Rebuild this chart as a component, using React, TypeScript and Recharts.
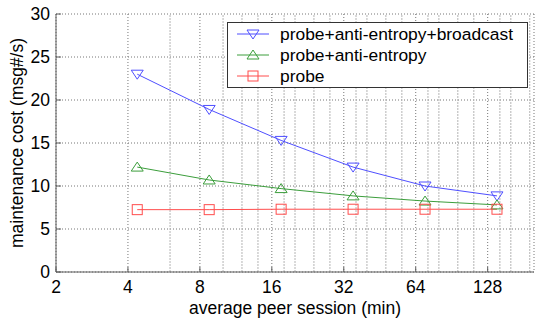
import { LineChart, Line, XAxis, YAxis, CartesianGrid, ReferenceLine } from 'recharts';

// session length (min) on a log axis, cost in msg#/s
const sessionMinutes = [4.375, 8.75, 17.5, 35, 70, 140];
const broadcastCost = [23.0, 18.9, 15.3, 12.2, 10.0, 8.85];
const antiEntropyCost = [12.2, 10.7, 9.7, 8.85, 8.25, 7.8];
const probeCost = [7.25, 7.25, 7.3, 7.3, 7.3, 7.3];

const xTicks = [2, 4, 8, 16, 32, 64, 128];
const xMinorTicks = [6, 10, 12, 14, 18, 20, 24, 28, 36, 40, 48, 56, 72, 80, 96, 112, 144, 160, 192];
const yTicks = [0, 5, 10, 15, 20, 25, 30];

const seriesKeys = ['bcast', 'ae', 'probe'];
const seriesNames = ['probe+anti-entropy+broadcast', 'probe+anti-entropy', 'probe'];
const seriesColors = ['#4f4fff', '#3c9e3c', '#ff4d4d'];

const data = sessionMinutes.map((m, i) => ({
  m,
  bcast: broadcastCost[i],
  ae: antiEntropyCost[i],
  probe: probeCost[i],
}));

const FONT = '"Liberation Sans", Arial, sans-serif';

/* hollow markers, matlab style */
const TriDown = (props: any) => {
  const { cx, cy, stroke } = props;
  if (cx == null || cy == null) return null;
  return (
    <polygon
      points={`${cx - 6},${cy - 4} ${cx + 6},${cy - 4} ${cx},${cy + 5}`}
      fill="none"
      stroke={stroke}
      strokeWidth={1}
    />
  );
};

const TriUp = (props: any) => {
  const { cx, cy, stroke } = props;
  if (cx == null || cy == null) return null;
  return (
    <polygon
      points={`${cx - 6},${cy + 4} ${cx + 6},${cy + 4} ${cx},${cy - 5}`}
      fill="none"
      stroke={stroke}
      strokeWidth={1}
    />
  );
};

const Square = (props: any) => {
  const { cx, cy, stroke } = props;
  if (cx == null || cy == null) return null;
  return <rect x={cx - 5} y={cy - 5} width={10} height={10} fill="none" stroke={stroke} strokeWidth={1} />;
};

const markers = [TriDown, TriUp, Square];

function LegendBox() {
  return (
    <div
      style={{
        position: 'absolute',
        left: 227,
        top: 22,
        width: 299,
        height: 64,
        border: '1px solid #333',
        background: '#fff',
      }}
    >
      <svg width={299} height={64}>
        {seriesNames.map((name, i) => {
          const Marker = markers[i];
          const cy = 11 + i * 21;
          return (
            <g key={name}>
              <line x1={9} x2={41} y1={cy} y2={cy} stroke={seriesColors[i]} strokeWidth={1} />
              <Marker cx={25} cy={cy} stroke={seriesColors[i]} />
              <text x={52} y={cy + 6} fontFamily={FONT} fontSize={17.4} fill="#000">
                {name}
              </text>
            </g>
          );
        })}
      </svg>
    </div>
  );
}

export default function App() {
  return (
    <div style={{ position: 'absolute', left: 0, top: 0, width: 535, height: 320, background: '#fff' }}>
      <LineChart width={535} height={320} data={data} margin={{ top: 14, right: 1, left: 0, bottom: 0 }}>
        <CartesianGrid stroke="#777" strokeDasharray="1 2" />
        {xMinorTicks.map((v) => (
          <ReferenceLine key={v} x={v} stroke="#b4b4b4" strokeDasharray="2 1" />
        ))}
        <XAxis
          dataKey="m"
          type="number"
          scale="log"
          domain={[2, 200]}
          ticks={xTicks}
          allowDataOverflow
          height={48}
          stroke="#5a5a5a"
          tickSize={-5}
          tickMargin={14}
          tick={{ fontFamily: FONT, fontSize: 17.5, fill: '#000' }}
          label={(p: any) => {
            const vb = p.viewBox;
            return (
              <text x={vb.x + vb.width / 2} y={314} textAnchor="middle" fontFamily={FONT} fontSize={17.5} fill="#000">
                average peer session (min)
              </text>
            );
          }}
        />
        <XAxis
          xAxisId="top"
          orientation="top"
          dataKey="m"
          type="number"
          scale="log"
          domain={[2, 200]}
          ticks={xTicks}
          allowDataOverflow
          height={0}
          stroke="#8a8a8a"
          tickSize={-5}
          tick={false}
        />
        <YAxis
          domain={[0, 30]}
          ticks={yTicks}
          width={56}
          stroke="#5a5a5a"
          tickSize={-5}
          tickMargin={11}
          tick={{ fontFamily: FONT, fontSize: 17.5, fill: '#000' }}
          label={(p: any) => {
            const vb = p.viewBox;
            const cy = vb.y + vb.height / 2;
            return (
              <text
                x={23}
                y={cy}
                transform={`rotate(-90, 23, ${cy})`}
                textAnchor="middle"
                fontFamily={FONT}
                fontSize={17.5}
                fill="#000"
              >
                maintenance cost (msg#/s)
              </text>
            );
          }}
        />
        <YAxis
          yAxisId="right"
          orientation="right"
          domain={[0, 30]}
          ticks={yTicks}
          width={0}
          stroke="#8a8a8a"
          tickSize={-5}
          tick={false}
        />
        {seriesKeys.map((k, i) => {
          const Marker = markers[i];
          return (
            <Line
              key={k}
              type="linear"
              dataKey={k}
              name={seriesNames[i]}
              stroke={seriesColors[i]}
              strokeWidth={1}
              dot={<Marker />}
              activeDot={false}
              isAnimationActive={false}
            />
          );
        })}
      </LineChart>
      <LegendBox />
    </div>
  );
}
